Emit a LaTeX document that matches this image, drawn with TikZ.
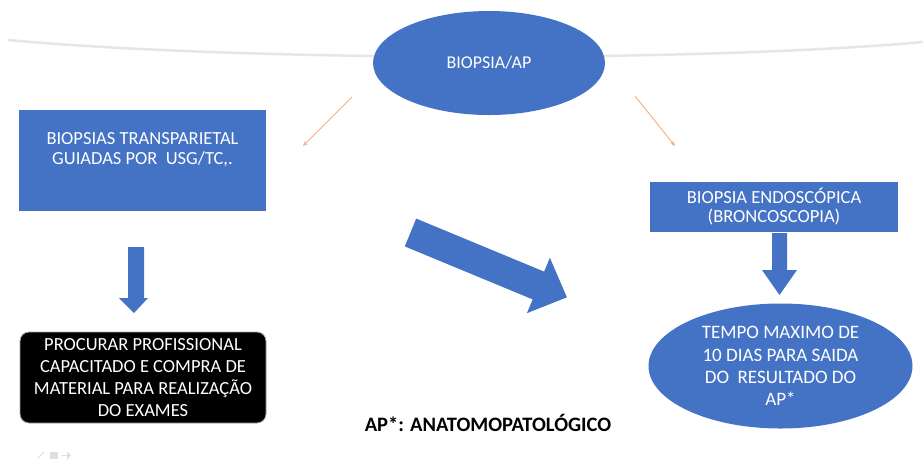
\documentclass[tikz,border=0pt]{standalone}
\usepackage{fontspec}
\setmainfont{Carlito}
\usetikzlibrary{arrows.meta,shapes.geometric}
\definecolor{blueA}{HTML}{4472C4}
\definecolor{orangeA}{HTML}{F4B183}
\definecolor{curveA}{HTML}{E6E6E6}
\tikzset{
  bluebox/.style={fill=blueA, draw=none, text=white, align=center, font=\fontsize{18.5}{19}\selectfont},
  blueoval/.style={ellipse, fill=blueA, draw=none, text=white, align=center, font=\fontsize{19}{22.3}\selectfont},
  darkbox/.style={rounded corners=9pt, fill=black, draw=gray!70, line width=0.8pt, text=white, align=center, font=\fontsize{18.5}{21.7}\selectfont},
  thinlink/.style={draw=orangeA, line width=0.9pt, -{Stealth[length=5pt,width=4.5pt]}},
  blockarrow/.style={fill=blueA, draw=none}
}
\begin{document}
\begin{tikzpicture}[x=1pt,y=-1pt]
\useasboundingbox (0,0) rectangle (923,467);
\fill[white] (0,0) rectangle (923,467);

% faint slide curve behind the top oval
\draw[curveA, line width=2.5pt] (8,40) .. controls (250,62) and (700,62) .. (923,42);

% top oval
\node[blueoval, font=\fontsize{18}{20}\selectfont, minimum width=232pt, minimum height=104pt] (top) at (489,63) {BIOPSIA/AP};

% left branch box (text sits near its top edge)
\fill[blueA] (19,110) rectangle (266,211);
\node[font=\fontsize{18.5}{20}\selectfont, text=white, align=center, inner sep=0pt] (left) at (142.5,150) {BIOPSIAS TRANSPARIETAL\\GUIADAS POR\ \ USG/TC,.};

% right branch box
\node[bluebox, minimum width=248pt, minimum height=50pt, inner sep=0pt] (right) at (774,207) {BIOPSIA ENDOSCÓPICA\\(BRONCOSCOPIA)};

% thin orange connectors from the top oval
\coordinate (la) at (352,97);
\coordinate (lb) at (303,146);
\coordinate (ra) at (635,96);
\coordinate (rb) at (675,146);
\draw[thinlink] (la) -- (lb);
\draw[thinlink] (ra) -- (rb);

% left block arrow pointing down
\fill[blockarrow] (128,247) -- (144,247) -- (144,298) -- (148,298) -- (134,313) -- (119,298) -- (128,298) -- cycle;

% right block arrow pointing down
\fill[blockarrow] (772,233) -- (787,233) -- (787,270) -- (797,270) -- (779.5,295) -- (762,270) -- (772,270) -- cycle;

% large diagonal block arrow
\fill[blockarrow] (416.2,218.6) -- (544.1,271.6) -- (549.9,257.8) -- (566.9,297.3) -- (526.9,313.2) -- (532.7,299.4) -- (404.8,246.4) -- cycle;

% dark bottom-left box
\node[darkbox, minimum width=246pt, minimum height=91pt, inner sep=0pt] (proc) at (143,377.5) {PROCURAR PROFISSIONAL\\CAPACITADO E COMPRA DE\\MATERIAL PARA REALIZAÇÃO\\DO EXAMES};

% bottom-right oval
\node[blueoval, minimum width=264pt, minimum height=125pt, inner sep=0pt] (tempo) at (780.5,366) {TEMPO MAXIMO DE\\10 DIAS PARA SAIDA\\DO\ \ RESULTADO DO\\AP*};

% footnote
\node[font=\bfseries\fontsize{20.5}{22}\selectfont, inner sep=0pt] (note) at (488,423) {AP*: ANATOMOPATOLÓGICO};

% faint slide controls at the lower left
\draw[gray!25, line width=1pt] (38,458) -- (44,452);
\fill[gray!25] (50,452) rectangle (58,459);
\draw[gray!25, line width=1.2pt] (62,455.5) -- (67,455.5);
\fill[gray!25] (67,451.5) -- (71,455.5) -- (67,459.5) -- cycle;
\end{tikzpicture}
\end{document}
